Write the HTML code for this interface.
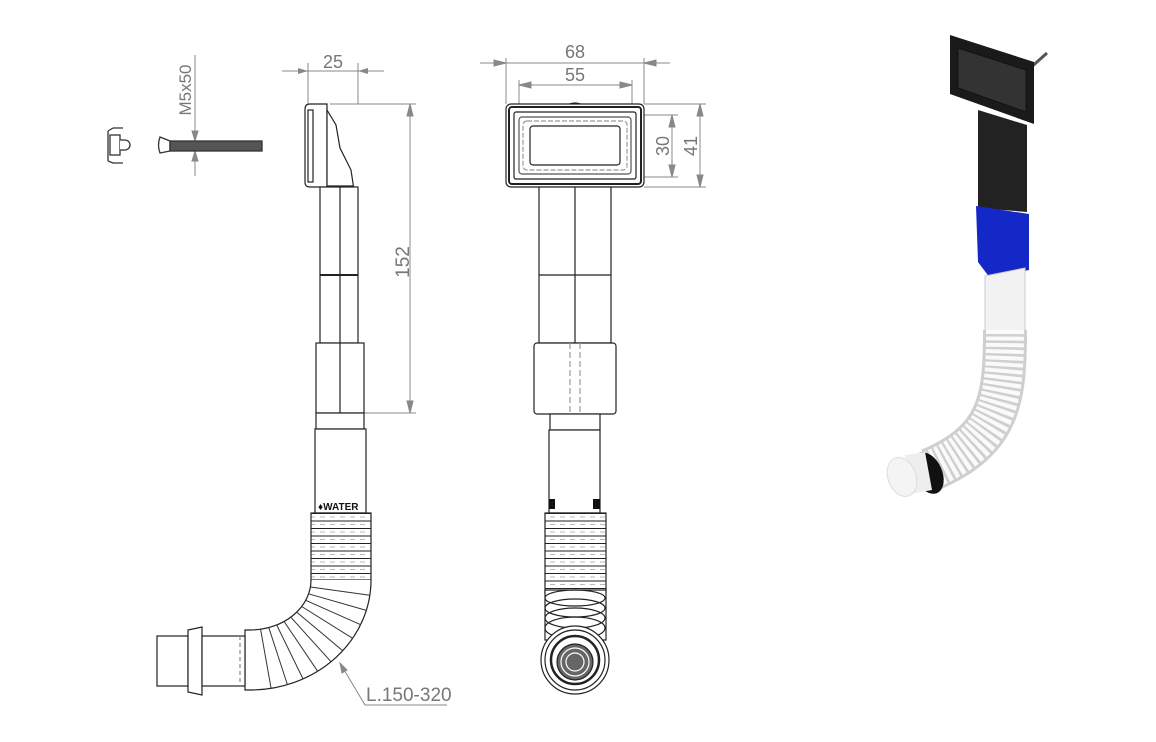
<!DOCTYPE html>
<html><head><meta charset="utf-8"><style>
html,body{margin:0;padding:0;background:#fff;}
svg{display:block}
text{font-family:"Liberation Sans",sans-serif;fill:#777;}
</style></head><body>
<svg width="1156" height="742" viewBox="0 0 1156 742" xmlns="http://www.w3.org/2000/svg">
<defs>
<pattern id="rib" x="0" y="513" width="10" height="7.5" patternUnits="userSpaceOnUse">
<rect width="10" height="7.5" fill="#fff"/>
<line x1="0" y1="0.5" x2="10" y2="0.5" stroke="#222" stroke-width="1"/>
<line x1="0" y1="4" x2="5" y2="4" stroke="#999" stroke-width="0.7"/>
</pattern>
<marker id="ar" markerWidth="10" markerHeight="6" refX="10" refY="3" orient="auto"><path d="M0,0 L10,3 L0,6 z" fill="#888"/></marker>
</defs>

<g fill="none" stroke="#888" stroke-width="1">
<line x1="308" y1="63" x2="308" y2="104"/><line x1="358" y1="63" x2="358" y2="104"/>
<line x1="282" y1="71" x2="308" y2="71" marker-end="url(#ar)"/>
<line x1="384" y1="71" x2="358" y2="71" marker-end="url(#ar)"/>
<line x1="308" y1="71" x2="358" y2="71"/>
<line x1="330" y1="104" x2="416" y2="104"/><line x1="364" y1="413" x2="416" y2="413"/>
<line x1="410" y1="106" x2="410" y2="411"/>
<path d="M410,104 l-3,12 h6z" fill="#888"/><path d="M410,413 l-3,-12 h6z" fill="#888"/>
<line x1="195" y1="55" x2="195" y2="176"/>
<path d="M195,141 l-3,-10 h6z" fill="#888"/><path d="M195,151 l-3,10 h6z" fill="#888"/>
<line x1="506" y1="58" x2="506" y2="104"/><line x1="644" y1="58" x2="644" y2="104"/>
<line x1="480" y1="63" x2="670" y2="63"/>
<path d="M506,63 l-12,-3 v6z" fill="#888"/><path d="M644,63 l12,-3 v6z" fill="#888"/>
<line x1="519" y1="80" x2="519" y2="112"/><line x1="632" y1="80" x2="632" y2="112"/>
<line x1="519" y1="85" x2="632" y2="85"/>
<path d="M519,85 l12,-3 v6z" fill="#888"/><path d="M632,85 l-12,-3 v6z" fill="#888"/>
<line x1="640" y1="115" x2="678" y2="115"/><line x1="640" y1="177" x2="678" y2="177"/>
<line x1="672" y1="115" x2="672" y2="177"/>
<path d="M672,115 l-3,12 h6z" fill="#888"/><path d="M672,177 l-3,-12 h6z" fill="#888"/>
<line x1="644" y1="104" x2="706" y2="104"/><line x1="644" y1="187" x2="706" y2="187"/>
<line x1="700" y1="104" x2="700" y2="187"/>
<path d="M700,104 l-3,12 h6z" fill="#888"/><path d="M700,187 l-3,-12 h6z" fill="#888"/>
<polyline points="340,663 365,705 447,705"/>
<path d="M340,663 l2,10 l5,-3z" fill="#888"/>
</g>
<text x="333" y="68" font-size="18" text-anchor="middle">25</text>
<text x="575" y="58" font-size="18" text-anchor="middle">68</text>
<text x="575" y="81" font-size="18" text-anchor="middle">55</text>
<text transform="translate(409,262) rotate(-90)" font-size="19" text-anchor="middle">152</text>
<text transform="translate(191,90) rotate(-90)" font-size="17" text-anchor="middle">M5x50</text>
<text transform="translate(669,146) rotate(-90)" font-size="18" text-anchor="middle">30</text>
<text transform="translate(697,146) rotate(-90)" font-size="18" text-anchor="middle">41</text>
<text x="366" y="701" font-size="19">L.150-320</text>

<g stroke="#333" stroke-width="1.3" fill="#fff">
<path d="M113,128 h10 M108,131 v30 M113,128 L108,131 M108,161 L113,163 h10"/>
<rect x="110" y="135" width="10" height="20"/>
<path d="M120,140 h5 a5,5 0 0 1 0,10 h-5"/>
<path d="M160,137 L170,141 L170,151 L160,153 Q157,145 160,137z"/>
<rect x="170" y="141" width="92" height="10" fill="#555"/>
</g>

<g stroke="#222" stroke-width="1.2" fill="#fff">
<path d="M310,104 h17 v83 h-17 q-5,0 -5,-5 v-73 q0,-5 5,-5z"/>
<rect x="308" y="110" width="5" height="72" fill="none"/>
<path d="M327,110 L336,125 L340,148 L351,170 L354,190 L327,190z"/>
<line x1="327" y1="186" x2="353" y2="186"/>
<rect x="320" y="187" width="38" height="156"/>
<line x1="340" y1="187" x2="340" y2="343"/>
<line x1="320" y1="275" x2="358" y2="275" stroke-width="2"/>
<rect x="316" y="343" width="48" height="70"/>
<line x1="340" y1="343" x2="340" y2="413"/>
<rect x="316" y="413" width="48" height="16"/>
<rect x="315" y="429" width="51" height="84"/>
<rect x="311" y="513" width="60" height="67" fill="url(#rib)"/>
<path d="M371,580 A121,110 0 0 1 250,690 L245,690 L245,630 L250,630 A61,50 0 0 0 311,580"/>
</g>
<g stroke="#333" stroke-width="1">
<line x1="310.4" y1="587" x2="369.8" y2="595.3"/><line x1="308.6" y1="593.8" x2="366.3" y2="610.4"/>
<line x1="305.7" y1="600.3" x2="360.6" y2="624.7"/><line x1="301.7" y1="606.5" x2="352.6" y2="638.3"/>
<line x1="296.7" y1="612.1" x2="342.7" y2="650.7"/><line x1="290.8" y1="617.2" x2="331" y2="661.7"/>
<line x1="284.1" y1="621.5" x2="317.6" y2="671.2"/><line x1="276.7" y1="625" x2="303" y2="678.9"/>
<line x1="268.8" y1="627.6" x2="287.4" y2="684.6"/><line x1="260.6" y1="629.3" x2="271.1" y2="688.4"/>
</g>
<text x="318" y="510" font-size="10" font-weight="bold" style="fill:#111">♦WATER</text>
<g stroke="#222" stroke-width="1.2" fill="#fff">
<rect x="157" y="636" width="31" height="50"/>
<path d="M188,630 L202,627 L202,695 L188,692z"/>
<rect x="202" y="636" width="43" height="50"/>
<line x1="240" y1="636" x2="240" y2="686" stroke-dasharray="4,3" stroke="#888"/>
</g>

<g stroke="#222" stroke-width="1.2" fill="#fff">
<path d="M566,106 q9,-6 18,0" fill="none"/>
<rect x="506" y="104" width="138" height="83" rx="5"/>
<rect x="509" y="107" width="132" height="77" rx="3" stroke-width="2"/>
<rect x="514" y="112" width="122" height="67" rx="2"/>
<rect x="519" y="117" width="112" height="57" rx="3" stroke="#555"/>
<rect x="523" y="121" width="104" height="49" rx="4" stroke="#999" stroke-dasharray="5,2"/>
<rect x="530" y="126" width="90" height="39" rx="3"/>
<path d="M566,187 q9,5 18,0" fill="none"/>
<rect x="539" y="187" width="72" height="156"/>
<line x1="575" y1="187" x2="575" y2="343"/>
<line x1="539" y1="275" x2="611" y2="275"/>
<rect x="534" y="343" width="82" height="71" rx="3"/>
<line x1="570" y1="343" x2="570" y2="414" stroke="#999" stroke-dasharray="6,3"/>
<line x1="580" y1="343" x2="580" y2="414" stroke="#999" stroke-dasharray="6,3"/>
<rect x="550" y="414" width="50" height="16"/>
<rect x="549" y="430" width="51" height="83"/>
<rect x="545" y="513" width="61" height="80" fill="url(#rib)"/>
<rect x="545" y="590" width="61" height="50"/>
<ellipse cx="575" cy="598" rx="30" ry="8" fill="none"/>
<ellipse cx="575" cy="608" rx="30" ry="9" fill="none"/>
<ellipse cx="575" cy="618" rx="30" ry="10" fill="none"/>
<ellipse cx="575" cy="628" rx="30" ry="11" fill="none"/>
<circle cx="575" cy="660" r="34"/>
<circle cx="575" cy="660" r="30" fill="none"/>
<circle cx="575" cy="660" r="24" stroke-width="2.5" fill="none"/>
<circle cx="575" cy="662" r="18" fill="#666"/>
<circle cx="575" cy="662" r="14" fill="none" stroke="#fff"/>
<circle cx="575" cy="662" r="9" fill="none" stroke="#fff"/>
</g>
<rect x="549" y="499" width="6" height="10" fill="#111"/>
<rect x="593" y="499" width="7" height="10" fill="#111"/>

<line x1="1028" y1="70" x2="1047" y2="53" stroke="#555" stroke-width="3"/>
<path d="M978,110 L1027,125 L1027,212 L978,208z" fill="#222"/>
<path d="M950,35 L1034,62 L1034,124 L950,94z" fill="#1a1a1a"/>
<path d="M958,48 L1026,70 L1026,112 L958,88z" fill="#333" stroke="#111"/>
<path d="M976,206 L1029,214 L1029,270 L990,278 L978,262z" fill="#1428c8"/>
<path d="M985,276 L1025,268 L1025,335 L985,340z" fill="#f2f2f2" stroke="#ccc"/>
<path d="M1005,330 C1005,400 1000,440 930,470" fill="none" stroke="#cfcfcf" stroke-width="44"/>
<path d="M1005,330 C1005,400 1000,440 930,470" fill="none" stroke="#fafafa" stroke-width="38" stroke-dasharray="4,2.5"/>
<ellipse cx="928" cy="473" rx="14" ry="22" transform="rotate(-25 928 473)" fill="#111"/>
<path d="M905,455 L925,452 L932,490 L905,495z" fill="#eee"/>
<ellipse cx="902" cy="477" rx="14" ry="20" transform="rotate(-20 902 477)" fill="#f4f4f4" stroke="#ddd"/>
</svg>
</body></html>
